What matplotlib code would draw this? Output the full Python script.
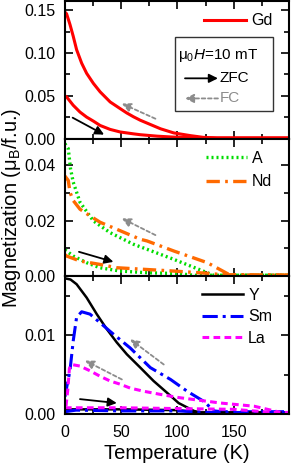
import numpy as np
import matplotlib.pyplot as plt
from matplotlib.patches import Rectangle

plt.rcParams['font.family'] = ['Liberation Sans', 'DejaVu Sans']
plt.rcParams['mathtext.fontset'] = 'custom'
plt.rcParams['mathtext.rm'] = 'Liberation Sans'
plt.rcParams['mathtext.it'] = 'Liberation Sans:italic'

# ---- panel 1: Gd ----
gd_fc_T = [0, 1.5, 4.5, 7.4, 10.4, 14.9, 19.3, 25.3, 31.3, 40.2, 49.1, 55, 61, 67, 76, 85, 96.7, 111.6, 123, 135, 200]
gd_fc_M = [0.148, 0.146, 0.1335, 0.1197, 0.104, 0.0882, 0.0764, 0.0646, 0.0547, 0.0429, 0.0351, 0.030, 0.0255,
           0.0215, 0.0165, 0.0115, 0.0067, 0.0035, 0.0015, 0.0008, 0.0008]
gd_zfc_T = [0, 1.5, 7.4, 13.4, 19.3, 25.3, 31.3, 40.2, 49.1, 61, 67, 82, 96.7, 123, 135, 200]
gd_zfc_M = [0.050, 0.0488, 0.039, 0.0311, 0.0252, 0.0205, 0.0154, 0.0108, 0.0078, 0.0056, 0.0046,
            0.0029, 0.0018, 0.0012, 0.0008, 0.0008]

# ---- panel 2: A, Nd ----
a_fc_T = [0, 3, 5, 7.4, 13.4, 25.3, 40, 61, 73, 96.7, 111.6, 126.5, 132, 200]
a_fc_M = [0.0476, 0.0458, 0.0386, 0.0338, 0.0266, 0.0199, 0.0157, 0.0115, 0.0097, 0.0061, 0.0037,
          0.0013, 0.0004, 0.0004]
nd_fc_T = [0, 3, 4.5, 7.4, 13.4, 22.3, 31.3, 46, 67, 73, 96.7, 126.5, 144.3, 150, 200]
nd_fc_M = [0.036, 0.0344, 0.0302, 0.0272, 0.0241, 0.0217, 0.0194, 0.0169, 0.0133, 0.0127, 0.0091,
           0.0049, 0.001, 0.0004, 0.0004]
a_zfc_T = [0, 1.5, 7.4, 19.3, 31, 49, 73, 100, 115, 200]
a_zfc_M = [0.0095, 0.0091, 0.0073, 0.0049, 0.0031, 0.0019, 0.0013, 0.001, 0.0004, 0.0004]
nd_zfc_T = [0, 1.5, 13.4, 31, 46, 96.7, 111.6, 126.5, 140, 200]
nd_zfc_M = [0.0078, 0.0073, 0.0055, 0.0043, 0.0031, 0.0019, 0.0015, 0.0011, 0.0006, 0.0005]

# ---- panel 3: Y, Sm, La ----
y_fc_T = [0, 5, 10.4, 19.3, 28.3, 37.2, 46.1, 55, 67, 78.8, 90.8, 101, 114.6, 120, 200]
y_fc_M = [0.01725, 0.0171, 0.0165, 0.0148, 0.0127, 0.0108, 0.0091, 0.0076, 0.0059, 0.0042, 0.0027,
          0.0014, 0.0004, 0.0002, 0.0002]
sm_fc_T = [0, 0.9, 4.5, 7.4, 10.4, 14.9, 22.3, 31.3, 40.2, 58, 75.9, 93.8, 108.6, 123.5, 132.4, 140, 200]
sm_fc_M = [0.0022, 0.0029, 0.0055, 0.0093, 0.0123, 0.0130, 0.0127, 0.0116, 0.0105, 0.0084, 0.0059,
           0.0044, 0.0029, 0.0016, 0.0004, 0.0003, 0.0003]
la_fc_T = [1, 2.5, 4, 6, 13.4, 22.3, 31.3, 40.2, 49, 58, 70, 84.8, 101, 111.6, 138.4, 168, 183, 192, 200]
la_fc_M = [0.0010, 0.0030, 0.0058, 0.0063, 0.0061, 0.0055, 0.0048, 0.0042, 0.0038, 0.0033, 0.0029,
           0.0025, 0.0021, 0.0019, 0.0014, 0.0010, 0.0005, 0.0002, 0.0002]
y_zfc_T = [0, 50, 100, 120, 200]
y_zfc_M = [0.0006, 0.0006, 0.0005, 0.0002, 0.0002]
sm_zfc_T = [0, 10, 50, 100, 130, 200]
sm_zfc_M = [0.0003, 0.0005, 0.0004, 0.0004, 0.0002, 0.0002]
la_zfc_T = [0, 50, 100, 150, 185, 200]
la_zfc_M = [0.0008, 0.0008, 0.0007, 0.0006, 0.0002, 0.0002]

red = '#ff0000'
green = '#00dd00'
orange = '#ff6a00'
blue = '#0000ff'
magenta = '#ff00ff'
grey = '#8c8c8c'

fig = plt.figure(figsize=(2.91, 4.70), dpi=100)
gs = fig.add_gridspec(3, 1, left=0.223, right=0.993, top=0.998, bottom=0.119, hspace=0)
axes = [fig.add_subplot(gs[i]) for i in range(3)]


def arrow(ax, head, tail, col, dashed=False):
    props = dict(arrowstyle='-|>', color=col, lw=1.3, mutation_scale=13, shrinkA=0, shrinkB=0)
    if dashed:
        props['ls'] = (0, (2, 1.5))
    ax.annotate('', xy=head, xytext=tail, arrowprops=props)


ax = axes[0]
ax.plot(gd_fc_T, gd_fc_M, color=red, lw=2.2, label='Gd')
ax.plot(gd_zfc_T, gd_zfc_M, color=red, lw=2.2)
arrow(ax, (34.8, 0.0047), (6.9, 0.0245), 'black')
arrow(ax, (50.6, 0.041), (80.4, 0.0233), grey, dashed=True)
ax.set_ylim(0, 0.161)
ax.set_yticks([0, 0.05, 0.10, 0.15])
ax.set_yticks(np.arange(0.025, 0.16, 0.05), minor=True)
ax.legend(loc='upper right', bbox_to_anchor=(0.975, 0.99), frameon=False, fontsize=11.5,
          handlelength=2.6, handletextpad=0.3, borderaxespad=0.3)
ax.add_patch(Rectangle((0.491, 0.204), 0.438, 0.533, transform=ax.transAxes,
                       fill=False, edgecolor='#333333', lw=1.0))
ax.text(0.503, 0.606, r'μ$_\mathregular{0}$$\mathit{H}$=10 mT', transform=ax.transAxes,
        fontsize=11, va='center', ha='left')
ax.annotate('', xy=(0.683, 0.438), xytext=(0.536, 0.438), xycoords='axes fraction',
            arrowprops=dict(arrowstyle='-|>', color='black', lw=1.3, mutation_scale=13, shrinkA=0, shrinkB=0))
ax.text(0.69, 0.438, 'ZFC', transform=ax.transAxes, fontsize=11, va='center', ha='left')
ax.annotate('', xy=(0.536, 0.292), xytext=(0.683, 0.292), xycoords='axes fraction',
            arrowprops=dict(arrowstyle='-|>', color=grey, lw=1.3, ls=(0, (2, 1.5)),
                            mutation_scale=13, shrinkA=0, shrinkB=0))
ax.text(0.69, 0.292, 'FC', transform=ax.transAxes, fontsize=11, va='center', ha='left', color=grey)

ax = axes[1]
ax.plot(a_fc_T, a_fc_M, color=green, lw=2.4, ls=(0, (0.6, 0.9)), label='A')
ax.plot(nd_fc_T, nd_fc_M, color=orange, lw=2.4, ls=(0, (4, 1.6, 0.8, 1.6)), label='Nd')
ax.plot(a_zfc_T, a_zfc_M, color=green, lw=2.4, ls=(0, (0.6, 0.9)))
ax.plot(nd_zfc_T, nd_zfc_M, color=orange, lw=2.4, ls=(0, (4, 1.6, 0.8, 1.6)))
arrow(ax, (43.1, 0.0052), (12.5, 0.0088), 'black')
arrow(ax, (50.6, 0.0208), (80.4, 0.0148), grey, dashed=True)
ax.set_ylim(0, 0.0494)
ax.set_yticks([0, 0.02, 0.04])
ax.set_yticks([0.01, 0.03], minor=True)
ax.legend(loc='upper right', bbox_to_anchor=(0.975, 0.995), frameon=False, fontsize=11.5,
          handlelength=2.6, handletextpad=0.3, borderaxespad=0.3, labelspacing=0.55)

ax = axes[2]
ax.plot(y_fc_T, y_fc_M, color='black', lw=1.8, label='Y')
ax.plot(sm_fc_T, sm_fc_M, color=blue, lw=2.2, ls=(0, (5, 1.6, 1, 1.6)), label='Sm')
ax.plot(la_fc_T, la_fc_M, color=magenta, lw=2.2, ls=(0, (2.2, 1.4)), label='La')
ax.plot(y_zfc_T, y_zfc_M, color='black', lw=1.8)
ax.plot(sm_zfc_T, sm_zfc_M, color=blue, lw=2.2, ls=(0, (5, 1.6, 1, 1.6)))
ax.plot(la_zfc_T, la_zfc_M, color=magenta, lw=2.2, ls=(0, (2.2, 1.4)))
arrow(ax, (46.1, 0.0014), (13.4, 0.0019), 'black')
arrow(ax, (58, 0.0095), (87.8, 0.0063), grey, dashed=True)
arrow(ax, (17.9, 0.0068), (50.6, 0.0044), grey, dashed=True)
ax.set_ylim(0, 0.0175)
ax.set_yticks([0, 0.01])
ax.set_yticks([0.005, 0.015], minor=True)
ax.legend(loc='upper right', bbox_to_anchor=(0.975, 1.0), frameon=False, fontsize=11.5,
          handlelength=2.6, handletextpad=0.3, borderaxespad=0.3, labelspacing=0.42)

for i, ax in enumerate(axes):
    ax.set_xlim(0, 199)
    ax.set_xticks([0, 50, 100, 150])
    ax.set_xticks([25, 75, 125, 175], minor=True)
    ax.yaxis.set_major_formatter(plt.FormatStrFormatter('%.2f'))
    ax.tick_params(which='both', direction='in', top=True, right=True, width=1.2, labelsize=11.5)
    ax.tick_params(which='major', length=6)
    ax.tick_params(which='minor', length=3.5)
    ax.tick_params(axis='y', which='both', pad=7)
    ax.tick_params(axis='x', which='both', pad=8)
    for s in ax.spines.values():
        s.set_linewidth(1.5)
    if i < 2:
        ax.tick_params(labelbottom=False)

axes[2].set_xlabel('Temperature (K)', fontsize=14.5, labelpad=3)
fig.text(0.04, 0.557, r'Magnetization (μ$_\mathregular{B}$/f.u.)', rotation=90,
         ha='center', va='center', fontsize=14.5)

fig.savefig('out.png', dpi=100)
